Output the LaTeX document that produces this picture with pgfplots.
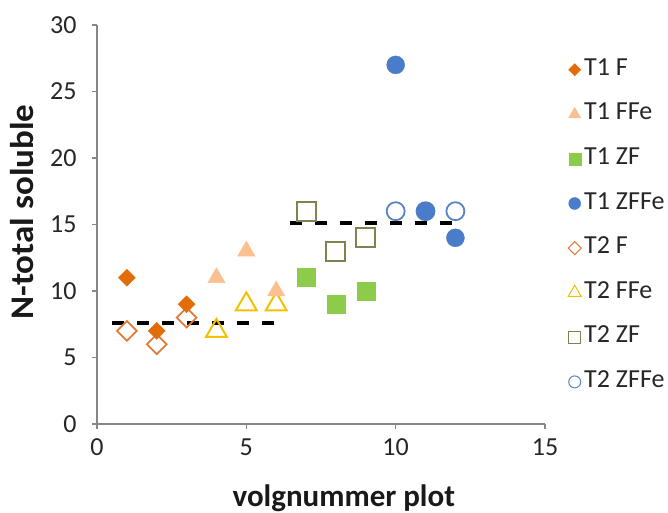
\documentclass[border=0pt]{standalone}
\usepackage{fontspec}
\setmainfont{Carlito}
\usepackage{pgfplots}
\pgfplotsset{compat=1.18}

\definecolor{axisgray}{HTML}{868686}
\definecolor{cTaF}{HTML}{E26B0A}
\definecolor{cTaFFe}{HTML}{FAC090}
\definecolor{cTaZF}{HTML}{8DCB4A}
\definecolor{cTaZFFe}{HTML}{4A7DC9}
\definecolor{cTbF}{HTML}{E07B39}
\definecolor{cTbFFe}{HTML}{F5C000}
\definecolor{cTbZF}{HTML}{828250}
\definecolor{cTbZFFe}{HTML}{5B84C0}

\begin{document}
\begin{tikzpicture}[x=1pt,y=1pt]
\useasboundingbox (0,0) rectangle (668,513);
\begin{axis}[
  at={(97pt,89pt)}, anchor=south west,
  width=448pt, height=399pt, scale only axis,
  xmin=0, xmax=15, ymin=0, ymax=30,
  xtick={0,5,10,15}, ytick={0,5,...,30},
  axis lines*=left,
  axis line style={draw=axisgray, line width=1.2pt},
  tick style={draw=axisgray, line width=1.2pt},
  tick align=outside, major tick length=5pt,
  /pgf/number format/assume math mode=true,
  ticklabel style={font=\fontsize{26}{26}\selectfont, text=black!85},
  yticklabel style={xshift=-12pt},
  xticklabel style={yshift=-6pt},
  xlabel={\textbf{volgnummer plot}},
  ylabel={\textbf{N-total soluble}},
  xlabel style={font=\fontsize{31}{31}\selectfont, text=black!90,
    at={(rel axis cs:0.551,0)}, anchor=center, yshift=-74pt},
  ylabel style={font=\fontsize{33}{33}\selectfont, text=black!90, xscale=1.06,
    at={(rel axis cs:0,0.531)}, anchor=center, yshift=75pt},
  legend style={draw=none, fill=none, at={(1,1)}, anchor=north west,
    xshift=20pt, yshift=-31pt,
    font=\fontsize{26}{26}\selectfont, text=black!85,
    nodes={inner sep=0pt, text height=17pt, text depth=6pt, anchor=west},
    row sep=21.6pt, column sep=3pt},
  legend cell align=left,
  legend image code/.code={\draw[mark repeat=2,mark phase=2,#1] plot coordinates {(0pt,0pt)(6pt,0pt)(12pt,0pt)};},
]

% T2 series (open markers), drawn first
\addplot[only marks, mark=square, mark size=7pt, mark options={rotate=45, fill=white}, draw=cTbF, line width=1.8pt, forget plot]
  coordinates {(1,7) (2,6) (3,8)};
\addplot[only marks, mark=triangle, mark size=12pt, mark options={fill=white}, draw=cTbFFe, line width=2pt, forget plot]
  coordinates {(4,7) (5,9) (6,9)};
\addplot[only marks, mark=square, mark size=9.5pt, mark options={fill=white}, draw=cTbZF, line width=2pt, forget plot]
  coordinates {(7,16) (8,13) (9,14)};
\addplot[only marks, mark=*, mark size=9pt, mark options={fill=white}, draw=cTbZFFe, line width=1.8pt, forget plot]
  coordinates {(10,16) (11,16) (12,16)};

% T1 series (filled markers)
\addplot[only marks, mark=square*, mark size=6pt, mark options={rotate=45}, color=cTaF, forget plot]
  coordinates {(1,11) (2,7) (3,9)};
\addplot[only marks, mark=triangle*, mark size=10pt, color=cTaFFe, forget plot]
  coordinates {(4,11) (5,13) (6,10)};
\addplot[only marks, mark=square*, mark size=9pt, color=cTaZF, forget plot]
  coordinates {(7,11) (8,9) (9,10)};
\addplot[only marks, mark=*, mark size=9pt, color=cTaZFFe, forget plot]
  coordinates {(10,27) (11,16) (12,14)};

% group levels
\addplot[black, line width=3.5pt, dash pattern=on 12pt off 13pt, forget plot]
  coordinates {(0.5,7.6) (6.25,7.6)};
\addplot[black, line width=3.5pt, dash pattern=on 12pt off 13pt, forget plot]
  coordinates {(6.45,15.1) (12.15,15.1)};

% legend entries
\addlegendimage{only marks, mark=square*, mark size=4.3pt, mark options={rotate=45}, color=cTaF}
\addlegendentry{T1 F}
\addlegendimage{only marks, mark=triangle*, mark size=7pt, color=cTaFFe}
\addlegendentry{T1 FFe}
\addlegendimage{only marks, mark=square*, mark size=6pt, color=cTaZF}
\addlegendentry{T1 ZF}
\addlegendimage{only marks, mark=*, mark size=6pt, color=cTaZFFe}
\addlegendentry{T1 ZFFe}
\addlegendimage{only marks, mark=square, mark size=4.6pt, mark options={rotate=45}, draw=cTbF, line width=1pt}
\addlegendentry{T2 F}
\addlegendimage{only marks, mark=triangle, mark size=7.5pt, draw=cTbFFe, line width=1pt}
\addlegendentry{T2 FFe}
\addlegendimage{only marks, mark=square, mark size=6pt, draw=cTbZF, line width=1pt}
\addlegendentry{T2 ZF}
\addlegendimage{only marks, mark=*, mark size=6pt, mark options={fill=white}, draw=cTbZFFe, line width=1pt}
\addlegendentry{T2 ZFFe}
\end{axis}
\end{tikzpicture}
\end{document}
